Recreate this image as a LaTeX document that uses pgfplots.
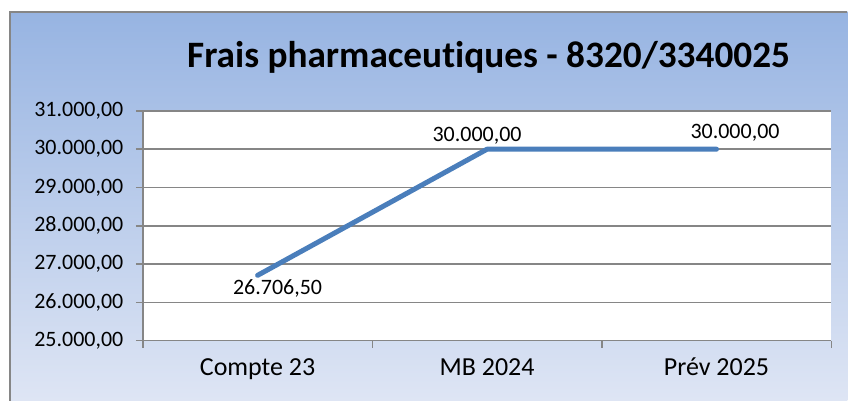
\documentclass[border=0pt]{standalone}
\usepackage{fontspec}
\setmainfont{Carlito}[Ligatures={NoCommon}]
\usepackage{pgfplots}
\usepackage{pgfplotstable}
\pgfplotsset{compat=1.18}
\definecolor{lineblue}{RGB}{74,126,187}
\definecolor{gridgray}{RGB}{134,134,134}
\definecolor{bgtop}{RGB}{151,180,226}
\definecolor{bgbot}{RGB}{222,229,244}
\pgfplotstableread{
x y dx dy
0.5 26706.5 20 -18.9
1.5 30000 -10 7.4
2.5 30000 18.5 10.9
}\datatable
\begin{document}
\begin{tikzpicture}[x=1pt,y=1pt]
\path[fill=white] (0,0) rectangle (848,401);
\shade[top color=bgtop, bottom color=bgbot] (10,0) rectangle (848,389);
\draw[gridgray, line width=1.5pt] (10,0) -- (10,389) -- (848,389);
\node[font=\fontsize{37.3}{37.3}\selectfont\bfseries, anchor=center] at (489,344) {Frais pharmaceutiques - 8320/3340025};
\begin{axis}[
  at={(143pt,60pt)}, anchor=south west,
  scale only axis, width=689pt, height=230pt,
  xmin=0, xmax=3, ymin=25000, ymax=31000,
  ytick={25000,26000,...,31000},
  axis background/.style={fill=white},
  separate axis lines,
  axis x line*=bottom, axis y line*=left,
  every outer x axis line/.append style={-, gridgray, line width=1.5pt},
  every outer y axis line/.append style={-, gridgray, line width=1.5pt},
  ymajorgrids,
  major grid style={gridgray, line width=1.5pt},
  tick align=outside,
  major tick length=7pt,
  tick style={gridgray, line width=1.5pt},
  xtick={0,1,2,3}, xticklabels={},
  extra x ticks={0.5,1.5,2.5},
  extra x tick labels={Compte 23, MB 2024, Prév 2025},
  extra x tick style={major tick length=0pt, xticklabel style={font=\fontsize{26}{26}\selectfont, anchor=north, yshift=-14pt}},
  yticklabel style={font=\fontsize{22}{22}\selectfont, anchor=east, xshift=-9pt},
  /pgf/number format/assume math mode=true,
  yticklabel={\pgfmathprintnumber[fixed, fixed zerofill, precision=2, use comma, 1000 sep={.}]{\tick}},
  scaled y ticks=false,
  clip=false,
]
\addplot[lineblue, line width=5pt, line cap=round, line join=round, no markers,
  visualization depends on={\thisrow{dx}\as\dx},
  visualization depends on={\thisrow{dy}\as\dy},
  nodes near coords={\pgfmathprintnumber[fixed, fixed zerofill, precision=2, use comma, 1000 sep={.}, assume math mode=true]{\pgfplotspointmeta}},
  nodes near coords style={font=\fontsize{22}{22}\selectfont, text=black, anchor=base, xshift=\dx pt, yshift=\dy pt},
  point meta=explicit,
] table[x=x, y=y, meta=y] {\datatable};
\end{axis}
\end{tikzpicture}
\end{document}
